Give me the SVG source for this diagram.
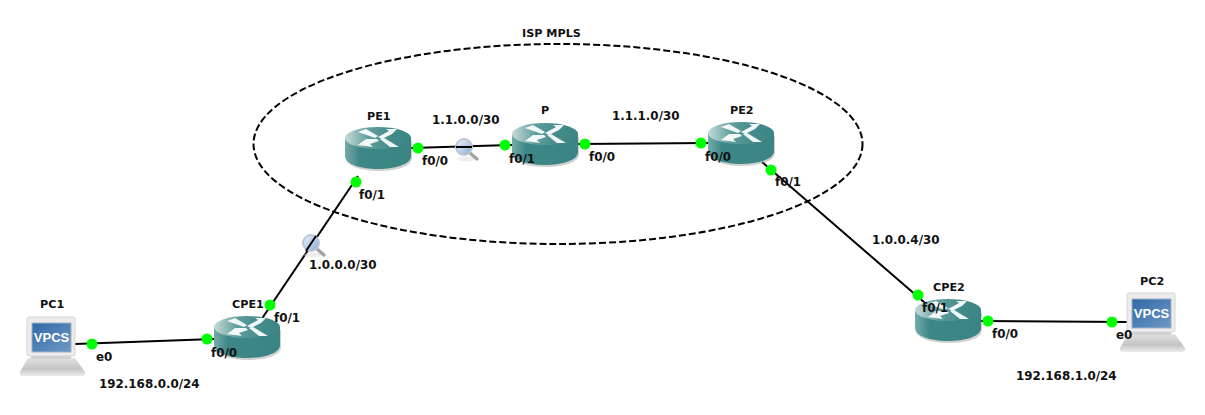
<svg xmlns="http://www.w3.org/2000/svg" width="1205" height="415" viewBox="0 0 1205 415">
<style>
text{font-family:"DejaVu Sans",Verdana,sans-serif;font-weight:bold;font-size:11.9px;fill:#111}
text.name{font-size:11.2px}
.link{stroke:#000;stroke-width:2;fill:none}
.port{fill:#0f0}
</style>
<defs>
<linearGradient id="top" x1="0" y1="0" x2="1" y2="0"><stop offset="0" stop-color="#c6dbda"/><stop offset=".35" stop-color="#5f9e9d"/><stop offset=".7" stop-color="#438b8a"/><stop offset="1" stop-color="#3b8584"/></linearGradient>
<linearGradient id="body" x1="0" y1="0" x2="1" y2="0"><stop offset="0" stop-color="#74abaa"/><stop offset=".22" stop-color="#3d8786"/><stop offset="1" stop-color="#3a8483"/></linearGradient>
<linearGradient id="sc" x1="0" y1="0" x2="1" y2="1"><stop offset="0" stop-color="#2f69a8"/><stop offset="1" stop-color="#7099c4"/></linearGradient>
<linearGradient id="kb" x1="0" y1="0" x2="0" y2="1"><stop offset="0" stop-color="#e2e2e2"/><stop offset=".6" stop-color="#c4c4c4"/><stop offset="1" stop-color="#ececec"/></linearGradient>
<linearGradient id="lens" x1="0" y1="0" x2="1" y2="1"><stop offset="0" stop-color="#f2f6fb"/><stop offset="1" stop-color="#85a9d6"/></linearGradient>
<g id="router">
<path d="M1 14V31C1 39 15 44 34 44S67 39 67 31V14Z" fill="#999" opacity=".45"/>
<path d="M0 11V29C0 37 15 42 33 42S66 37 66 29V11Z" fill="url(#body)"/>
<ellipse cx="33" cy="11" rx="33" ry="11" fill="url(#top)"/>
<g fill="#fff" opacity=".92">
<path d="M13 5L21 2L33 9L30 11Z"/>
<path d="M52 2L47 7L37 12L33 10L44 4L41 2Z"/>
<path d="M13 18L21 12L32 12L34 14L25 17L28 20Z"/>
<path d="M35 12L39 11L54 20L45 20Z"/>
</g>
</g>
<g id="vpcs">
<path d="M8 41H55L65 55Q66 59 62 59H3Q-1 59 0 55Z" fill="url(#kb)"/>
<path d="M11 38H51V42H11Z" fill="#d0d0d0"/>
<rect x="7" y="0" width="48" height="39" rx="2" fill="#ececec" stroke="#d6d6d6"/>
<rect x="12" y="6" width="39" height="29" fill="url(#sc)" stroke="#9fb2c6"/>
<text x="31.500" y="25" text-anchor="middle" style="font-family:'Liberation Sans',Arial,sans-serif;font-size:13px;fill:#fff">VPCS</text>
</g>
<g id="mag">
<ellipse cx="2" cy="12" rx="9" ry="2.500" fill="#ddd" opacity=".5"/>
<path d="M6 6L13 12" stroke="#a2a2a2" stroke-width="3.400" stroke-linecap="round"/>
<circle r="8" fill="url(#lens)" stroke="#bcc6d2" stroke-width="2"/>
</g>
</defs>
<rect width="1205" height="415" fill="#fff"/>
<ellipse id="isp-mpls" cx="558" cy="144" rx="304.500" ry="100" fill="none" stroke="#000" stroke-width="2" stroke-dasharray="7 3"/>
<g id="connectors">
<path class="link" d="M75 344L214 339"/>
<path class="link" d="M261 320L358 176"/>
<path class="link" d="M411 148L512 145"/>
<path class="link" d="M578 144L708 143"/>
<path class="link" d="M762 162L932 309"/>
<path class="link" d="M981 321L1128 322"/>
</g>
<g id="PE1"><use href="#router" x="345" y="127"/><text class="name" x="367" y="120">PE1</text></g>
<g id="P"><use href="#router" x="512" y="123"/><text class="name" x="541" y="114">P</text></g>
<g id="PE2"><use href="#router" x="708" y="122"/><text class="name" x="730" y="114">PE2</text></g>
<g id="CPE1"><use href="#router" x="214" y="316"/><text class="name" x="232" y="308">CPE1</text></g>
<g id="CPE2"><use href="#router" x="915" y="299"/><text class="name" x="933" y="291">CPE2</text></g>
<g id="PC1"><use href="#vpcs" x="20" y="317"/><text class="name" x="40" y="308">PC1</text></g>
<g id="PC2"><use href="#vpcs" x="1120" y="293"/><text class="name" x="1140" y="285">PC2</text></g>
<g id="ISP-label"><text class="name" x="522" y="37">ISP MPLS</text></g>
<g id="captures">
<use href="#mag" x="464" y="147"/><path d="M456 147L472 147" class="link"/>
<use href="#mag" x="311" y="243"/><path d="M306 251L316 236" class="link"/>
</g>
<g id="ports" class="port">
<circle cx="92" cy="344" r="5.500"/><circle cx="207" cy="339" r="5.500"/><circle cx="270" cy="305" r="5.500"/>
<circle cx="356" cy="182" r="5.500"/><circle cx="418" cy="148" r="5.500"/><circle cx="505" cy="145" r="5.500"/>
<circle cx="585" cy="144" r="5.500"/><circle cx="701" cy="143" r="5.500"/><circle cx="771" cy="170" r="5.500"/>
<circle cx="918" cy="295" r="5.500"/><circle cx="988" cy="321" r="5.500"/><circle cx="1112" cy="322" r="5.500"/>
</g>
<g id="labels">
<text x="96" y="361">e0</text><text x="211" y="357">f0/0</text><text x="274" y="322">f0/1</text>
<text x="359" y="199">f0/1</text><text x="422" y="165">f0/0</text><text x="509" y="163">f0/1</text>
<text x="589" y="161">f0/0</text><text x="705" y="161">f0/0</text><text x="775" y="186">f0/1</text>
<text x="922" y="312">f0/1</text><text x="992" y="338">f0/0</text><text x="1116" y="339">e0</text>
<text x="432" y="124">1.1.0.0/30</text><text x="612" y="120">1.1.1.0/30</text>
<text x="309" y="269">1.0.0.0/30</text><text x="872" y="244">1.0.0.4/30</text>
<text x="99" y="388">192.168.0.0/24</text><text x="1016" y="380">192.168.1.0/24</text>
</g>
</svg>
